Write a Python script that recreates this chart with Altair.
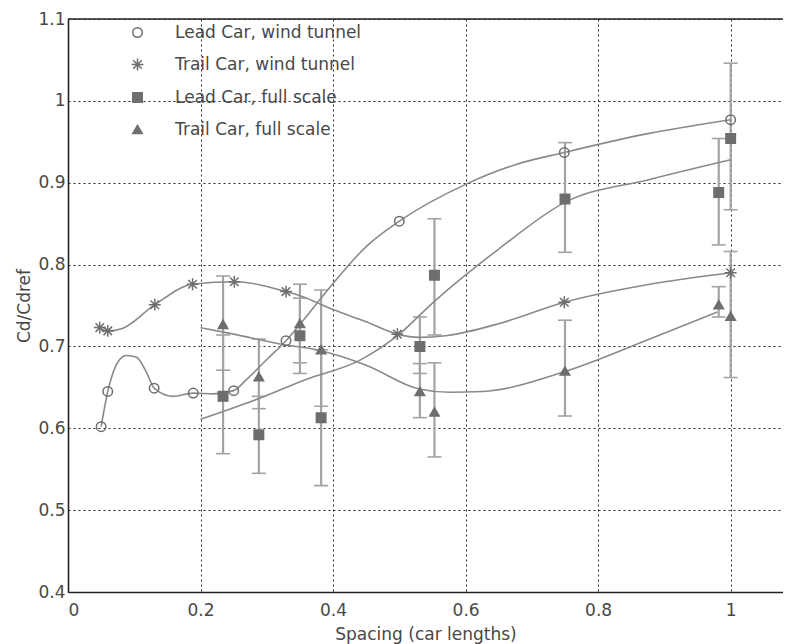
import altair as alt
import pandas as pd

SERIES = ["Lead Car,  wind tunnel", "Trail Car, wind tunnel",
          "Lead Car,  full scale", "Trail Car, full scale"]

# measured points -------------------------------------------------------
lead_wt_x = [0.05, 0.06, 0.13, 0.189, 0.25, 0.329, 0.5, 0.749, 1.0]
lead_wt_y = [0.602, 0.645, 0.649, 0.643, 0.646, 0.707, 0.853, 0.937, 0.977]

trail_wt_x = [0.048, 0.06, 0.131, 0.188, 0.251, 0.329, 0.497, 0.749, 1.0]
trail_wt_y = [0.723, 0.719, 0.751, 0.776, 0.779, 0.767, 0.715, 0.754, 0.79]

fs_x = [0.234, 0.288, 0.35, 0.382, 0.531, 0.553, 0.75, 0.982, 1.0]
lead_fs_y = [0.639, 0.592, 0.713, 0.613, 0.700, 0.787, 0.880, 0.888, 0.954]
lead_fs_lo = [0.569, 0.545, 0.667, 0.530, 0.667, 0.714, 0.815, 0.824, 0.867]
lead_fs_hi = [0.714, 0.639, 0.759, 0.696, 0.736, 0.856, 0.949, 0.954, 1.046]
trail_fs_y = [0.727, 0.663, 0.728, 0.696, 0.645, 0.620, 0.670, 0.751, 0.737]
trail_fs_lo = [0.671, 0.624, 0.680, 0.627, 0.613, 0.565, 0.615, 0.736, 0.662]
trail_fs_hi = [0.786, 0.709, 0.776, 0.769, 0.679, 0.680, 0.732, 0.773, 0.816]

# fitted curves --------------------------------------------------------
lead_wt_cx = [0.05, 0.06, 0.068, 0.078, 0.088, 0.103, 0.118, 0.13, 0.158, 0.189,
              0.22, 0.25, 0.27, 0.30, 0.329, 0.36, 0.40, 0.45, 0.5, 0.6, 0.675,
              0.749, 0.875, 1.0]
lead_wt_cy = [0.602, 0.645, 0.668, 0.684, 0.689, 0.687, 0.669, 0.649, 0.639, 0.643,
              0.642, 0.646, 0.660, 0.684, 0.707, 0.737, 0.777, 0.822, 0.853, 0.898,
              0.922, 0.937, 0.960, 0.977]

trail_wt_cx = [0.048, 0.06, 0.082, 0.131, 0.188, 0.251, 0.329, 0.35, 0.40, 0.45,
               0.497, 0.53, 0.57, 0.651, 0.749, 0.878, 1.0]
trail_wt_cy = [0.723, 0.719, 0.722, 0.751, 0.776, 0.779, 0.767, 0.762, 0.745, 0.730,
               0.715, 0.711, 0.713, 0.728, 0.754, 0.776, 0.79]

lead_fs_cx = [0.2, 0.29, 0.36, 0.44, 0.5, 0.55, 0.65, 0.75, 0.878, 1.0]
lead_fs_cy = [0.611, 0.637, 0.660, 0.683, 0.715, 0.753, 0.819, 0.876, 0.904, 0.928]

trail_fs_cx = [0.2, 0.25, 0.32, 0.38, 0.45, 0.53, 0.576, 0.626, 0.749, 0.878, 0.98]
trail_fs_cy = [0.723, 0.715, 0.703, 0.695, 0.677, 0.648, 0.644, 0.645, 0.669, 0.709, 0.742]

X_TICKS = [0, 0.2, 0.4, 0.6, 0.8, 1.0]
Y_TICKS = [0.4, 0.5, 0.6, 0.7, 0.8, 0.9, 1.0, 1.1]

# tables ------------------------------------------------------------------
points = pd.concat([
    pd.DataFrame({"series": SERIES[0], "x": lead_wt_x, "y": lead_wt_y}),
    pd.DataFrame({"series": SERIES[1], "x": trail_wt_x, "y": trail_wt_y}),
    pd.DataFrame({"series": SERIES[2], "x": fs_x, "y": lead_fs_y}),
    pd.DataFrame({"series": SERIES[3], "x": fs_x, "y": trail_fs_y}),
], ignore_index=True)

bars = pd.concat([
    pd.DataFrame({"x": fs_x, "lo": lead_fs_lo, "hi": lead_fs_hi}),
    pd.DataFrame({"x": fs_x, "lo": trail_fs_lo, "hi": trail_fs_hi}),
], ignore_index=True)

curves = pd.concat([
    pd.DataFrame({"series": SERIES[0], "x": lead_wt_cx, "y": lead_wt_cy}),
    pd.DataFrame({"series": SERIES[1], "x": trail_wt_cx, "y": trail_wt_cy}),
    pd.DataFrame({"series": SERIES[2], "x": lead_fs_cx, "y": lead_fs_cy}),
    pd.DataFrame({"series": SERIES[3], "x": trail_fs_cx, "y": trail_fs_cy}),
], ignore_index=True)

W, H = 715, 573
FONT = "DejaVu Sans"
TXT = "#484848"
GREY_LINE = "#8a8a8a"
GREY_MARK = "#6e6e6e"
GREY_BAR = "#a3a3a3"

xscale = alt.Scale(domain=[0, 1.079], nice=False, zero=False)
yscale = alt.Scale(domain=[0.4, 1.1], nice=False, zero=False)
xaxis = alt.Axis(values=X_TICKS, format="~g", title="Spacing (car lengths)")
yaxis = alt.Axis(values=Y_TICKS, format="~g", title="Cd/Cdref")

ASTER = "M-1.25,0L1.25,0M0,-1.25L0,1.25M-0.9,-0.9L0.9,0.9M-0.9,0.9L0.9,-0.9"
SHAPES = ["circle", ASTER, "square", "triangle-up"]
FILLS = ["transparent", GREY_MARK, GREY_MARK, GREY_MARK]
STROKES = [GREY_MARK, GREY_MARK, GREY_MARK, GREY_MARK]

leg = alt.Legend(title=None, orient="none", legendX=61, legendY=5, padding=0,
                 rowPadding=14, labelOffset=29, labelFont=FONT, labelFontSize=17,
                 labelColor=TXT, labelLimit=400, symbolSize=90,
                 symbolStrokeWidth=1.5, symbolOpacity=1)

lines = alt.Chart(curves).mark_line(
    interpolate="monotone", color=GREY_LINE, strokeWidth=1.6
).encode(
    x=alt.X("x:Q", scale=xscale, axis=xaxis),
    y=alt.Y("y:Q", scale=yscale, axis=yaxis),
    detail="series:N",
)

err = alt.Chart(bars).mark_rule(color=GREY_BAR, strokeWidth=2.2).encode(
    x=alt.X("x:Q", scale=xscale, axis=xaxis),
    y=alt.Y("lo:Q", scale=yscale, axis=yaxis),
    y2="hi:Q",
)
cap_lo = alt.Chart(bars).mark_tick(orient="horizontal", size=14, thickness=1.6,
                                   color=GREY_BAR, opacity=1).encode(
    x=alt.X("x:Q", scale=xscale, axis=xaxis),
    y=alt.Y("lo:Q", scale=yscale, axis=yaxis),
)
cap_hi = alt.Chart(bars).mark_tick(orient="horizontal", size=14, thickness=1.6,
                                   color=GREY_BAR, opacity=1).encode(
    x=alt.X("x:Q", scale=xscale, axis=xaxis),
    y=alt.Y("hi:Q", scale=yscale, axis=yaxis),
)

pts = alt.Chart(points).mark_point(size=90, strokeWidth=1.5, opacity=1).encode(
    x=alt.X("x:Q", scale=xscale, axis=xaxis),
    y=alt.Y("y:Q", scale=yscale, axis=yaxis),
    shape=alt.Shape("series:N", scale=alt.Scale(domain=SERIES, range=SHAPES), legend=leg),
    fill=alt.Fill("series:N", scale=alt.Scale(domain=SERIES, range=FILLS), legend=leg),
    stroke=alt.Stroke("series:N", scale=alt.Scale(domain=SERIES, range=STROKES), legend=leg),
)

top_border = alt.Chart(pd.DataFrame({"k": [0]})).mark_rule(
    color="#222222", strokeWidth=1.5
).encode(x=alt.value(0), x2=alt.value(W), y=alt.value(0))

chart = alt.layer(err, cap_lo, cap_hi, lines, pts, top_border).properties(
    width=W, height=H,
    autosize=alt.AutoSizeParams(type="none"),
    padding={"left": 60, "top": 11, "right": 0, "bottom": 52},
    background="white",
).configure_view(
    strokeWidth=0
).configure_axis(
    grid=True, gridColor="#111111", gridDash=[2, 3], gridWidth=1, gridOpacity=0.9,
    domainColor="#222222", domainWidth=1.6,
    ticks=False, tickSize=0,
    labelFont=FONT, labelFontSize=17, labelColor=TXT,
    titleFont=FONT, titleFontSize=17, titleColor=TXT, titleFontWeight="normal",
).configure_axisX(
    labelPadding=10, titlePadding=8,
).configure_axisY(
    labelPadding=3, titlePadding=4,
)

chart.save("out.html", embed_options={"renderer": "svg", "actions": False})
